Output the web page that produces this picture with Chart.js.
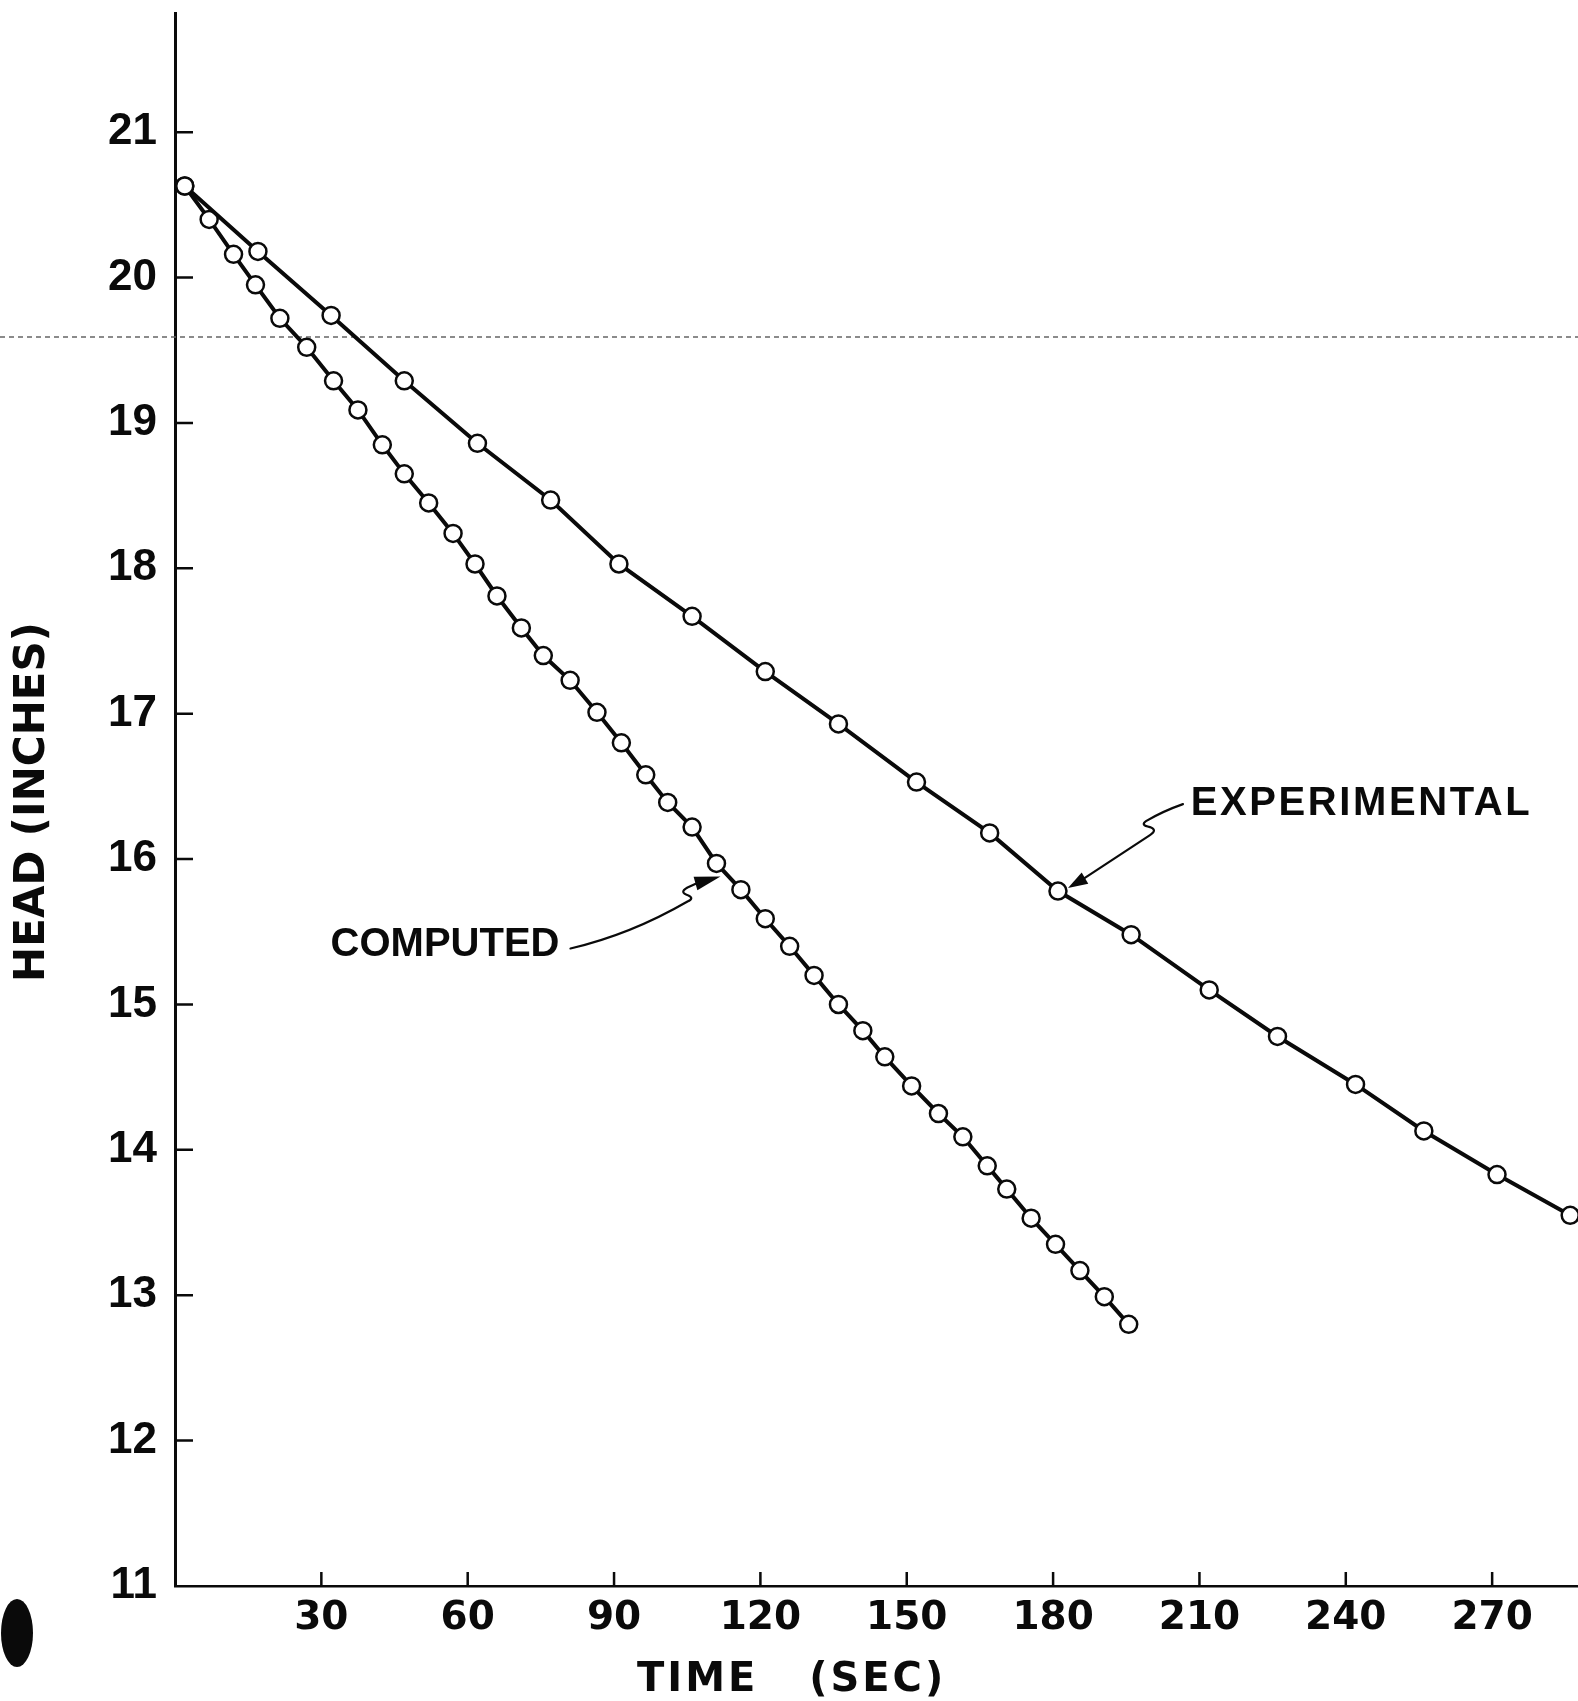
<!DOCTYPE html>
<html>
<head>
<meta charset="utf-8">
<script src="https://cdn.jsdelivr.net/npm/chart.js@4.4.0/dist/chart.umd.min.js"></script>
<style>
  html, body { margin: 0; padding: 0; background: #fff; }
  canvas { display: block; }
</style>
</head>
<body>
<canvas id="headChart" width="1578" height="1701"></canvas>
<script>
// time (sec) / head (inches)
const expTime = [2, 17, 32, 47, 62, 77, 91, 106, 121, 136, 152, 167, 181, 196, 212, 226, 242, 256, 271, 286];
const expHead = [20.63, 20.18, 19.74, 19.29, 18.86, 18.47, 18.03, 17.67, 17.29, 16.93, 16.53, 16.18, 15.78, 15.48, 15.10, 14.78, 14.45, 14.13, 13.83, 13.55];

const compTime = [2, 7, 12, 16.5, 21.5, 27, 32.5, 37.5, 42.5, 47, 52, 57, 61.5, 66, 71, 75.5, 81, 86.5, 91.5, 96.5,
                  101, 106, 111, 116, 121, 126, 131, 136, 141, 145.5, 151, 156.5, 161.5, 166.5, 170.5, 175.5, 180.5, 185.5, 190.5, 195.5];
const compHead = [20.63, 20.40, 20.16, 19.95, 19.72, 19.52, 19.29, 19.09, 18.85, 18.65, 18.45, 18.24, 18.03, 17.81, 17.59, 17.40, 17.23, 17.01, 16.80, 16.58,
                  16.39, 16.22, 15.97, 15.79, 15.59, 15.40, 15.20, 15.00, 14.82, 14.64, 14.44, 14.25, 14.09, 13.89, 13.73, 13.53, 13.35, 13.17, 12.99, 12.80];

const xTicks = [30, 60, 90, 120, 150, 180, 210, 240, 270];
const yTicks = [11, 12, 13, 14, 15, 16, 17, 18, 19, 20, 21];

const ink = '#0a0a0a';

function toPoints(xs, ys) {
    return xs.map(function (x, i) { return { x: x, y: ys[i] }; });
}

function arrowHead(ctx, tip, base, half) {
    var dx = base.x - tip.x, dy = base.y - tip.y;
    var len = Math.sqrt(dx * dx + dy * dy);
    var nx = -dy / len * half, ny = dx / len * half;
    ctx.beginPath();
    ctx.moveTo(tip.x, tip.y);
    ctx.lineTo(base.x + nx, base.y + ny);
    ctx.lineTo(base.x - nx, base.y - ny);
    ctx.closePath();
    ctx.fill();
}

// tick marks pointing inward, axis titles, labels with leaders, scan marks
const paperPlugin = {
    id: 'paper',
    beforeDatasetsDraw(chart) {
        const ctx = chart.ctx;
        ctx.save();
        // fold line across the sheet
        ctx.strokeStyle = '#666';
        ctx.lineWidth = 1.5;
        ctx.setLineDash([5, 4]);
        ctx.beginPath();
        ctx.moveTo(0, 337);
        ctx.lineTo(chart.width, 337);
        ctx.stroke();
        ctx.restore();
    },
    afterDraw(chart) {
        const ctx = chart.ctx;
        const xs = chart.scales.x, ys = chart.scales.y;
        const area = chart.chartArea;
        ctx.save();
        ctx.strokeStyle = ink;
        ctx.fillStyle = ink;

        ctx.lineWidth = 2.5;
        ctx.beginPath();
        yTicks.forEach(function (v) {
            if (v === ys.min) return;
            var py = ys.getPixelForValue(v);
            ctx.moveTo(area.left, py);
            ctx.lineTo(area.left + 18, py);
        });
        xTicks.forEach(function (v) {
            var px = xs.getPixelForValue(v);
            ctx.moveTo(px, area.bottom);
            ctx.lineTo(px, area.bottom - 14);
        });
        ctx.stroke();

        // axis titles
        ctx.font = 'bold 40px "DejaVu Sans"';
        ctx.textBaseline = 'middle';
        ctx.textAlign = 'center';
        ctx.letterSpacing = '3px';
        ctx.fillText('TIME   (SEC)', xs.getPixelForValue(126.4), 1681);
        ctx.save();
        ctx.translate(33, 802);
        ctx.rotate(-Math.PI / 2);
        ctx.font = 'bold 42px "DejaVu Sans"';
        ctx.letterSpacing = '0px';
        ctx.fillText('HEAD (INCHES)', 0, 0);
        ctx.restore();

        // curve labels
        ctx.textAlign = 'left';
        ctx.font = 'bold 40px "Liberation Sans"';
        ctx.letterSpacing = '2.6px';
        ctx.fillText('EXPERIMENTAL', xs.getPixelForValue(208.2), ys.getPixelForValue(16.38));
        ctx.letterSpacing = '0px';
        ctx.fillText('COMPUTED', xs.getPixelForValue(31.9), ys.getPixelForValue(15.41));

        ctx.lineWidth = 2.2;
        ctx.lineJoin = 'round';
        ctx.lineCap = 'round';

        // leader to experimental curve
        var pe = chart.getDatasetMeta(0).data[12];
        var t = { x: pe.x + 10, y: pe.y - 3 };
        arrowHead(ctx, t, { x: t.x + 17, y: t.y - 10 }, 6.5);
        ctx.beginPath();
        ctx.moveTo(t.x + 15, t.y - 9);
        ctx.lineTo(t.x + 82, t.y - 53);
        ctx.quadraticCurveTo(t.x + 90, t.y - 58, t.x + 82, t.y - 61);
        ctx.quadraticCurveTo(t.x + 72, t.y - 63, t.x + 78, t.y - 67);
        ctx.quadraticCurveTo(t.x + 95, t.y - 77, t.x + 115, t.y - 84);
        ctx.stroke();

        // leader to computed curve
        var pc = chart.getDatasetMeta(1).data[22];
        var c = { x: pc.x + 4, y: pc.y + 13 };
        arrowHead(ctx, c, { x: c.x - 25, y: c.y + 7 }, 7);
        ctx.beginPath();
        ctx.moveTo(c.x - 22, c.y + 6);
        ctx.lineTo(c.x - 33, c.y + 11);
        ctx.quadraticCurveTo(c.x - 42, c.y + 16, c.x - 32, c.y + 19);
        ctx.quadraticCurveTo(c.x - 26, c.y + 22, c.x - 33, c.y + 25);
        ctx.quadraticCurveTo(c.x - 90, c.y + 58, c.x - 150, c.y + 72);
        ctx.stroke();

        // punch hole blot
        ctx.beginPath();
        ctx.ellipse(17, 1633, 16, 34, 0, 0, Math.PI * 2);
        ctx.fill();
        ctx.restore();
    }
};

const ctx = document.getElementById('headChart');
const headChart = new Chart(ctx, {
    type: 'scatter',
    data: {
        datasets: [{
            label: 'EXPERIMENTAL',
            data: toPoints(expTime, expHead),
            showLine: true,
            borderColor: ink,
            borderWidth: 4,
            pointRadius: 8.5,
            pointBorderWidth: 2.5,
            pointBackgroundColor: '#fff',
            pointBorderColor: ink,
            tension: 0,
            clip: false
        }, {
            label: 'COMPUTED',
            data: toPoints(compTime, compHead),
            showLine: true,
            borderColor: ink,
            borderWidth: 4,
            pointRadius: 8.5,
            pointBorderWidth: 2.5,
            pointBackgroundColor: '#fff',
            pointBorderColor: ink,
            tension: 0,
            clip: false
        }]
    },
    options: {
        responsive: false,
        animation: false,
        devicePixelRatio: 1,
        layout: { autoPadding: false, padding: { top: 13, left: 0, right: 0, bottom: 0 } },
        plugins: {
            legend: { display: false },
            tooltip: { enabled: false }
        },
        scales: {
            x: {
                type: 'linear',
                min: 0,
                max: 287.6,
                afterFit: function (scale) {
                    scale.height = 115;
                    scale.paddingLeft = 0;
                    scale.paddingRight = 0;
                },
                afterBuildTicks: function (scale) {
                    scale.ticks = xTicks.map(function (v) { return { value: v }; });
                },
                grid: { display: false, drawTicks: false },
                border: { display: true, width: 2.5, color: ink },
                ticks: {
                    padding: 9,
                    color: ink,
                    maxRotation: 0,
                    autoSkip: false,
                    font: { family: 'DejaVu Sans', weight: 'bold', size: 39 }
                }
            },
            y: {
                type: 'linear',
                min: 11,
                max: 21.82,
                afterFit: function (scale) {
                    scale.width = 175;
                    scale.paddingTop = 0;
                    scale.paddingBottom = 0;
                },
                afterBuildTicks: function (scale) {
                    scale.ticks = yTicks.map(function (v) { return { value: v }; });
                },
                grid: { display: false, drawTicks: false },
                border: { display: true, width: 3, color: ink },
                ticks: {
                    padding: 18,
                    color: ink,
                    autoSkip: false,
                    font: { family: 'Liberation Sans', weight: 'bold', size: 44 }
                }
            }
        }
    },
    plugins: [paperPlugin]
});
</script>
</body>
</html>
